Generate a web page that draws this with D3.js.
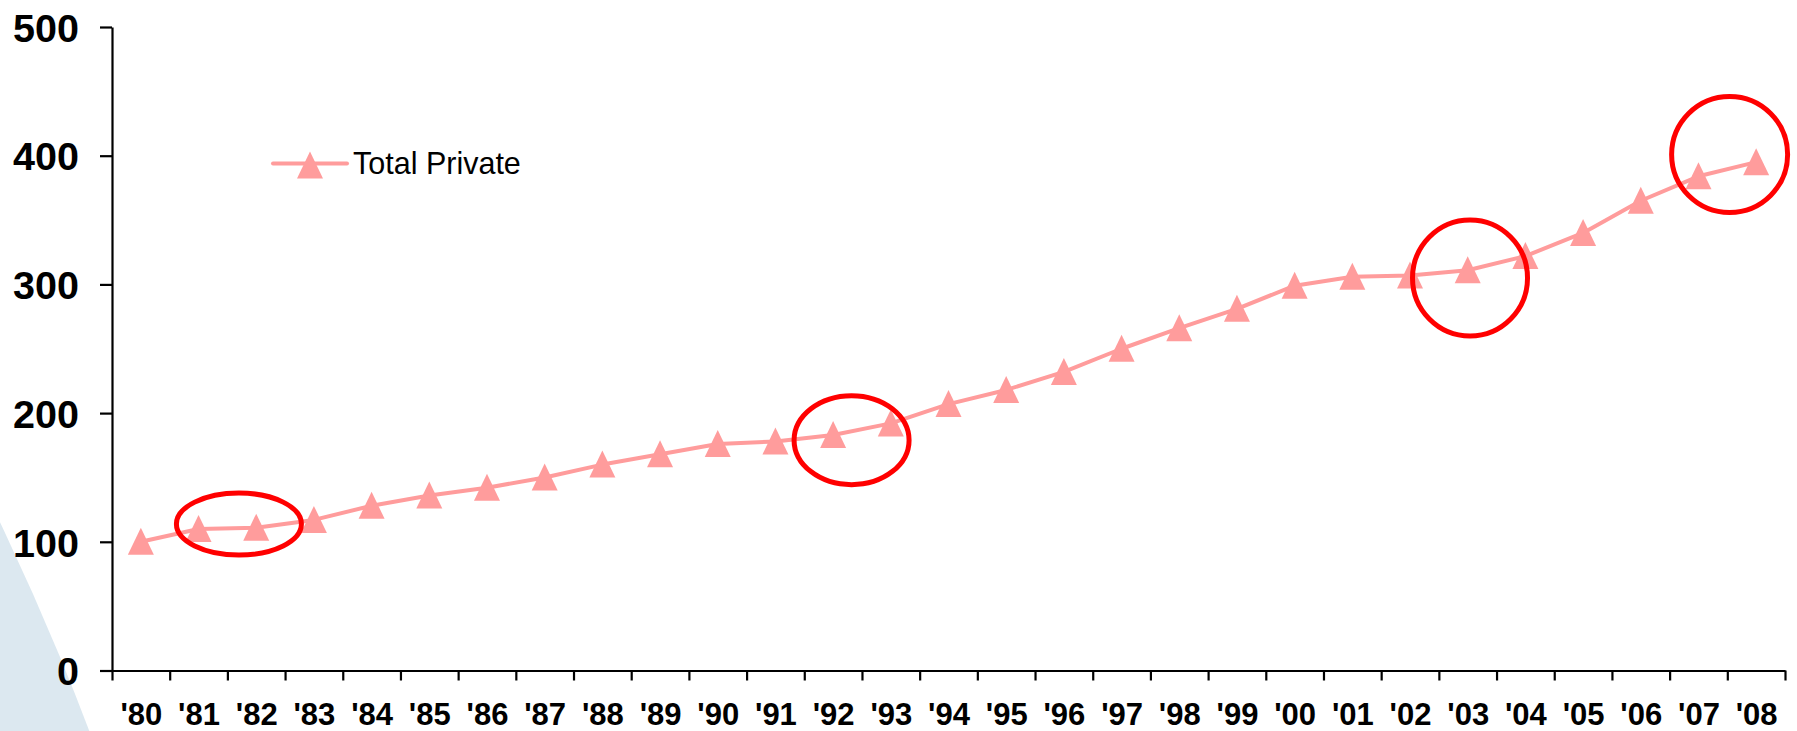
<!DOCTYPE html>
<html>
<head>
<meta charset="utf-8">
<script src="https://cdn.jsdelivr.net/npm/d3@7"></script>
<style>
  html, body { margin: 0; padding: 0; background: #ffffff; }
  svg { display: block; }
</style>
</head>
<body>
<svg id="chart" width="1797" height="731"></svg>
<script>
// Year labels along the category axis
const years = ["'80","'81","'82","'83","'84","'85","'86","'87","'88","'89",
               "'90","'91","'92","'93","'94","'95","'96","'97","'98","'99",
               "'00","'01","'02","'03","'04","'05","'06","'07","'08"];

// Total Private index (1980 = 100)
const totalPrivate = [100, 110, 111, 117, 128, 136, 142, 150, 160, 168,
                      176, 178, 183, 192, 207, 218, 232, 250, 266, 281,
                      299, 306, 307, 311, 322, 340, 365, 384, 395];

const yTicks = [0, 100, 200, 300, 400, 500];
const seriesName = "Total Private";

// Highlighted periods: centre in category/value units
const highlightX = [2.2, 12.82, 23.54, 28.04];
const highlightY = [113.8, 179, 305, 401];

const svg = d3.select("#chart");

// soft backdrop sweep in the lower-left corner
svg.append("circle")
  .attr("cx", -2440).attr("cy", 1690).attr("r", 2705)
  .attr("fill", "#dce8f0");

const x = d3.scaleLinear().domain([0, years.length]).range([112, 1785]);
const y = d3.scaleLinear().domain([0, 500]).range([670.5, 27]);

const lineColor = "#ff9c9c";

// Y axis
const yAxis = svg.append("g")
  .attr("transform", `translate(${x(0)},0)`)
  .call(d3.axisLeft(y).tickValues(yTicks).tickSize(12).tickSizeOuter(0));
yAxis.select(".domain").attr("stroke", "#000").attr("stroke-width", 2.2);
yAxis.selectAll(".tick line").attr("stroke", "#000").attr("stroke-width", 2.2);
yAxis.selectAll(".tick text")
  .attr("x", null).attr("dy", null)
  .attr("text-anchor", "end")
  .attr("dominant-baseline", "central")
  .attr("transform", "translate(-33,1) scale(1.04,1)")
  .attr("font-family", "Liberation Sans, Arial, sans-serif")
  .attr("font-weight", "bold")
  .attr("font-size", 38)
  .attr("fill", "#000");

// X axis: tick marks on category boundaries
const xAxis = svg.append("g")
  .attr("transform", `translate(0,${y(0)})`)
  .call(d3.axisBottom(x).tickValues(d3.range(0, years.length + 1))
    .tickFormat("").tickSize(10).tickSizeOuter(0));
xAxis.select(".domain").attr("stroke", "#000").attr("stroke-width", 2.2);
xAxis.selectAll(".tick line").attr("stroke", "#000").attr("stroke-width", 2.2);

// X axis labels centred in each category
const xLabels = svg.append("g")
  .attr("transform", `translate(0,${y(0)})`)
  .call(d3.axisBottom(x).tickValues(d3.range(years.length).map(i => i + 0.5))
    .tickFormat((d, i) => years[i]).tickSize(0).tickPadding(32));
xLabels.select(".domain").remove();
xLabels.selectAll(".tick text")
  .attr("font-family", "Liberation Sans, Arial, sans-serif")
  .attr("font-weight", "bold")
  .attr("font-size", 31)
  .attr("fill", "#000");

// Series line
const line = d3.line()
  .x((d, i) => x(i + 0.5))
  .y(d => y(d));

svg.append("path")
  .datum(totalPrivate)
  .attr("fill", "none")
  .attr("stroke", lineColor)
  .attr("stroke-width", 4)
  .attr("stroke-linejoin", "round")
  .attr("d", line);

// Triangle markers
const tri = "M0,-14L13,13L-13,13Z";
svg.append("g").selectAll("path")
  .data(totalPrivate)
  .join("path")
  .attr("d", tri)
  .attr("fill", lineColor)
  .attr("transform", (d, i) => `translate(${x(i + 0.5)},${y(d)})`);

// Highlight rings
const ringRx = [62.5, 57.5, 57.5, 58];
const ringRy = [31, 44.5, 58, 58];
svg.append("g").selectAll("ellipse")
  .data(highlightX)
  .join("ellipse")
  .attr("cx", d => x(d))
  .attr("cy", (d, i) => y(highlightY[i]))
  .attr("rx", (d, i) => ringRx[i])
  .attr("ry", (d, i) => ringRy[i])
  .attr("fill", "none")
  .attr("stroke", "#ff0000")
  .attr("stroke-width", 5);

// Legend
const legend = svg.append("g").attr("transform", "translate(273,163.5)");
legend.append("line")
  .attr("x1", 0).attr("x2", 74).attr("y1", 0).attr("y2", 0)
  .attr("stroke", lineColor).attr("stroke-width", 4).attr("stroke-linecap", "round");
legend.append("path")
  .attr("d", tri)
  .attr("fill", lineColor)
  .attr("transform", "translate(37,2)");
legend.append("text")
  .attr("x", 80).attr("y", 10.5)
  .attr("font-family", "Liberation Sans, Arial, sans-serif")
  .attr("font-size", 30.5)
  .attr("fill", "#000")
  .text(seriesName);
</script>
</body>
</html>
